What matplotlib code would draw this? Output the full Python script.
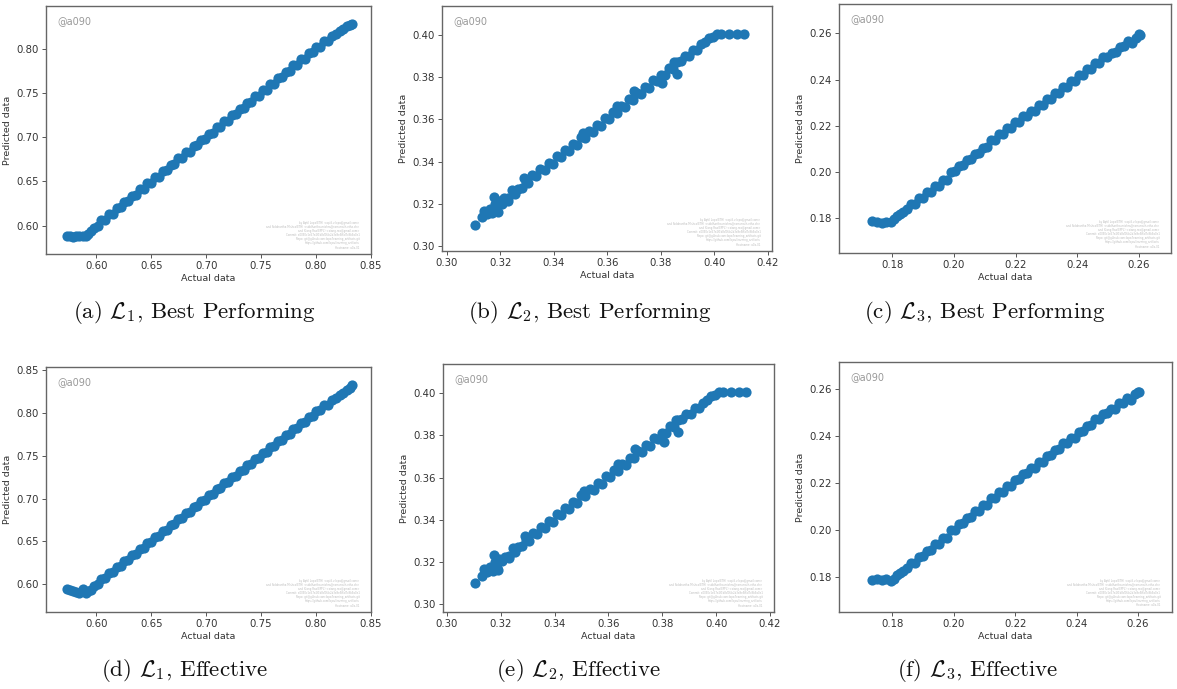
import matplotlib
matplotlib.use('Agg')
import matplotlib.pyplot as plt

plt.rcParams['mathtext.fontset'] = 'cm'

# ---- data ----
# L1 (actual data is the same test set for both rows)
actual_l1 = [0.5730, 0.5755, 0.5785, 0.5815, 0.5845, 0.5875, 0.5900, 0.5925, 0.5950, 0.5980,
             0.6010, 0.6045, 0.6080, 0.6115, 0.6150, 0.6185, 0.6220, 0.6255, 0.6290, 0.6325,
             0.6360, 0.6395, 0.6430, 0.6465, 0.6500, 0.6535, 0.6570, 0.6605, 0.6640, 0.6675,
             0.6710, 0.6745, 0.6780, 0.6815, 0.6850, 0.6885, 0.6920, 0.6955, 0.6990, 0.7025,
             0.7060, 0.7095, 0.7130, 0.7165, 0.7200, 0.7235, 0.7270, 0.7305, 0.7340, 0.7375,
             0.7410, 0.7445, 0.7480, 0.7515, 0.7550, 0.7585, 0.7620, 0.7655, 0.7690, 0.7725,
             0.7760, 0.7795, 0.7830, 0.7865, 0.7900, 0.7935, 0.7970, 0.8005, 0.8040, 0.8075,
             0.8110, 0.8145, 0.8180, 0.8215, 0.8250, 0.8285, 0.8310, 0.8330]
pred_l1_best = [0.5880, 0.5885, 0.5875, 0.5882, 0.5878, 0.5880, 0.5885, 0.5910, 0.5935, 0.5970,
                0.6000, 0.6060, 0.6065, 0.6130, 0.6135, 0.6200, 0.6205, 0.6270, 0.6275, 0.6340,
                0.6345, 0.6410, 0.6415, 0.6480, 0.6485, 0.6550, 0.6555, 0.6620, 0.6625, 0.6690,
                0.6695, 0.6760, 0.6765, 0.6830, 0.6835, 0.6900, 0.6905, 0.6970, 0.6975, 0.7040,
                0.7045, 0.7110, 0.7115, 0.7180, 0.7185, 0.7250, 0.7255, 0.7320, 0.7325, 0.7390,
                0.7395, 0.7460, 0.7465, 0.7530, 0.7535, 0.7600, 0.7605, 0.7670, 0.7675, 0.7740,
                0.7745, 0.7810, 0.7815, 0.7880, 0.7885, 0.7950, 0.7955, 0.8020, 0.8020, 0.8080,
                0.8085, 0.8140, 0.8160, 0.8195, 0.8215, 0.8250, 0.8265, 0.8280]
pred_l1_eff = [0.5940, 0.5935, 0.5920, 0.5905, 0.5895, 0.5950, 0.5895, 0.5920, 0.5935, 0.5975,
               0.6005, 0.6065, 0.6070, 0.6135, 0.6140, 0.6205, 0.6210, 0.6275, 0.6280, 0.6345,
               0.6350, 0.6415, 0.6420, 0.6485, 0.6490, 0.6555, 0.6560, 0.6625, 0.6630, 0.6695,
               0.6700, 0.6765, 0.6770, 0.6835, 0.6840, 0.6905, 0.6910, 0.6975, 0.6980, 0.7045,
               0.7050, 0.7115, 0.7120, 0.7185, 0.7190, 0.7255, 0.7260, 0.7325, 0.7330, 0.7395,
               0.7400, 0.7465, 0.7470, 0.7535, 0.7540, 0.7605, 0.7610, 0.7675, 0.7680, 0.7745,
               0.7750, 0.7815, 0.7820, 0.7885, 0.7890, 0.7955, 0.7960, 0.8025, 0.8030, 0.8090,
               0.8095, 0.8155, 0.8175, 0.8210, 0.8235, 0.8265, 0.8290, 0.8320]

# L2
actual_l2 = [0.3105, 0.3130, 0.3140, 0.3150, 0.3160, 0.3170, 0.3180, 0.3185, 0.3195, 0.3205,
             0.3215, 0.3230, 0.3245, 0.3255, 0.3265, 0.3280, 0.3295, 0.3305, 0.3320, 0.3335,
             0.3350, 0.3365, 0.3380, 0.3395, 0.3410, 0.3425, 0.3440, 0.3455, 0.3470, 0.3485,
             0.3500, 0.3515, 0.3530, 0.3545, 0.3560, 0.3575, 0.3590, 0.3605, 0.3620, 0.3635,
             0.3650, 0.3665, 0.3680, 0.3695, 0.3710, 0.3725, 0.3740, 0.3755, 0.3770, 0.3785,
             0.3800, 0.3815, 0.3830, 0.3845, 0.3860, 0.3875, 0.3890, 0.3905, 0.3920, 0.3935,
             0.3950, 0.3965, 0.3980, 0.3995, 0.4010, 0.4025, 0.4055, 0.4085, 0.4110,
             0.3175, 0.3190, 0.3230, 0.3290, 0.3635, 0.3805, 0.3850, 0.3860, 0.3700, 0.3510]
pred_l2_best = [0.3100, 0.3135, 0.3165, 0.3150, 0.3175, 0.3155, 0.3200, 0.3170, 0.3215, 0.3200,
                0.3225, 0.3225, 0.3265, 0.3245, 0.3270, 0.3275, 0.3305, 0.3300, 0.3335, 0.3330,
                0.3365, 0.3360, 0.3395, 0.3390, 0.3425, 0.3420, 0.3455, 0.3450, 0.3485, 0.3480,
                0.3515, 0.3510, 0.3545, 0.3540, 0.3575, 0.3570, 0.3605, 0.3600, 0.3635, 0.3630,
                0.3665, 0.3660, 0.3695, 0.3690, 0.3725, 0.3720, 0.3755, 0.3750, 0.3785, 0.3780,
                0.3810, 0.3810, 0.3845, 0.3840, 0.3870, 0.3875, 0.3900, 0.3900, 0.3930, 0.3930,
                0.3955, 0.3965, 0.3985, 0.3990, 0.4003, 0.4005, 0.4005, 0.4005, 0.4005,
                0.3230, 0.3160, 0.3215, 0.3320, 0.3665, 0.3770, 0.3870, 0.3815, 0.3735, 0.3535]
pred_l2_eff = [0.3100, 0.3135, 0.3165, 0.3152, 0.3176, 0.3157, 0.3200, 0.3172, 0.3215, 0.3202,
               0.3225, 0.3226, 0.3266, 0.3246, 0.3271, 0.3276, 0.3306, 0.3301, 0.3335, 0.3331,
               0.3366, 0.3361, 0.3395, 0.3391, 0.3426, 0.3421, 0.3455, 0.3451, 0.3486, 0.3481,
               0.3515, 0.3511, 0.3546, 0.3541, 0.3575, 0.3571, 0.3606, 0.3601, 0.3635, 0.3631,
               0.3666, 0.3661, 0.3695, 0.3691, 0.3726, 0.3721, 0.3755, 0.3751, 0.3786, 0.3781,
               0.3811, 0.3811, 0.3846, 0.3841, 0.3871, 0.3876, 0.3901, 0.3901, 0.3931, 0.3931,
               0.3956, 0.3966, 0.3986, 0.3991, 0.4004, 0.4005, 0.4005, 0.4005, 0.4005,
               0.3232, 0.3162, 0.3216, 0.3321, 0.3666, 0.3771, 0.3871, 0.3816, 0.3736, 0.3536]

# L3
actual_l3 = [0.1735, 0.1750, 0.1765, 0.1780, 0.1795, 0.1805, 0.1815, 0.1825, 0.1835, 0.1848,
             0.1861, 0.1874, 0.1887, 0.1900, 0.1913, 0.1926, 0.1939, 0.1952, 0.1965, 0.1978,
             0.1991, 0.2004, 0.2017, 0.2030, 0.2043, 0.2056, 0.2069, 0.2082, 0.2095, 0.2108,
             0.2121, 0.2134, 0.2147, 0.2160, 0.2173, 0.2186, 0.2199, 0.2212, 0.2225, 0.2238,
             0.2251, 0.2264, 0.2277, 0.2290, 0.2303, 0.2316, 0.2329, 0.2342, 0.2355, 0.2368,
             0.2381, 0.2394, 0.2407, 0.2420, 0.2433, 0.2446, 0.2459, 0.2472, 0.2485, 0.2498,
             0.2511, 0.2524, 0.2537, 0.2550, 0.2563, 0.2576, 0.2589, 0.2600, 0.2605]
pred_l3_best = [0.1788, 0.1786, 0.1780, 0.1786, 0.1784, 0.1795, 0.1810, 0.1818, 0.1826, 0.1840,
                0.1862, 0.1863, 0.1888, 0.1889, 0.1914, 0.1915, 0.1940, 0.1941, 0.1966, 0.1967,
                0.2002, 0.2003, 0.2028, 0.2029, 0.2054, 0.2055, 0.2080, 0.2081, 0.2106, 0.2107,
                0.2137, 0.2138, 0.2163, 0.2164, 0.2189, 0.2190, 0.2215, 0.2216, 0.2241, 0.2242,
                0.2265, 0.2266, 0.2291, 0.2292, 0.2317, 0.2318, 0.2343, 0.2344, 0.2369, 0.2370,
                0.2393, 0.2394, 0.2419, 0.2420, 0.2445, 0.2446, 0.2471, 0.2472, 0.2497, 0.2498,
                0.2517, 0.2518, 0.2543, 0.2544, 0.2566, 0.2560, 0.2582, 0.2598, 0.2593]
pred_l3_eff = [0.1785, 0.1792, 0.1786, 0.1792, 0.1782, 0.1790, 0.1808, 0.1815, 0.1824, 0.1838,
               0.1860, 0.1861, 0.1886, 0.1887, 0.1912, 0.1913, 0.1938, 0.1939, 0.1964, 0.1965,
               0.2000, 0.2001, 0.2026, 0.2027, 0.2052, 0.2053, 0.2078, 0.2079, 0.2104, 0.2105,
               0.2135, 0.2136, 0.2161, 0.2162, 0.2187, 0.2188, 0.2213, 0.2214, 0.2239, 0.2240,
               0.2263, 0.2264, 0.2289, 0.2290, 0.2315, 0.2316, 0.2341, 0.2342, 0.2367, 0.2368,
               0.2391, 0.2392, 0.2417, 0.2418, 0.2443, 0.2444, 0.2469, 0.2470, 0.2494, 0.2495,
               0.2514, 0.2515, 0.2539, 0.2540, 0.2560, 0.2553, 0.2576, 0.2586, 0.2585]

captions = [r'(a) $\mathcal{L}_1$, Best Performing', r'(b) $\mathcal{L}_2$, Best Performing',
            r'(c) $\mathcal{L}_3$, Best Performing', r'(d) $\mathcal{L}_1$, Effective',
            r'(e) $\mathcal{L}_2$, Effective', r'(f) $\mathcal{L}_3$, Effective']

credits = ['by Aptil Lopa(ETH) <aptil.v.lopa@gmail.com>',
           'and Siddhartha Mishra(ETH) <siddhartha.mishra@sam.math.ethz.ch>',
           'and Xiang Rao(EPFL) <xiang.rao@gmail.com>',
           'Commit: a0090c1e57e2f1b8d0f4c2b3a9e5f6d7c8b9a0e1',
           'Repo: git@github.com:lopa/learning_artifacts.git',
           'https://github.com/lopa/learning_artifacts',
           'Hostname: a0a-01']

panels = [
    (actual_l1, pred_l1_best, (46, 6, 371, 254), (0.554, 0.8502), (0.568, 0.848), (194, 313)),
    (actual_l2, pred_l2_best, (442, 6, 772, 251), (0.2982, 0.4215), (0.2976, 0.4137), (590, 313)),
    (actual_l3, pred_l3_best, (839, 4, 1171, 253), (0.1627, 0.2704), (0.165, 0.2727), (985, 313)),
    (actual_l1, pred_l1_eff, (46, 367, 371, 612), (0.554, 0.8502), (0.5677, 0.8535), (185, 670)),
    (actual_l2, pred_l2_eff, (443, 364, 774, 612), (0.2986, 0.4215), (0.2962, 0.4139), (578, 670)),
    (actual_l3, pred_l3_eff, (839, 362, 1172, 612), (0.1626, 0.2711), (0.1651, 0.2713), (978, 670)),
]

W, H = 1177, 689
fig = plt.figure(figsize=(W / 100, H / 100), dpi=100)

for i, (xs, ys, box, xl, yl, cap) in enumerate(panels):
    l, t, r, b = box
    ax = fig.add_axes([l / W, 1 - b / H, (r - l) / W, (b - t) / H])
    ax.scatter(xs, ys, s=54, color='#1f77b4', linewidths=0)
    ax.set_xlim(xl)
    ax.set_ylim(yl)
    ax.set_xlabel('Actual data', fontsize=6.8, color='#333333', labelpad=2)
    ax.set_ylabel('Predicted data', fontsize=6.8, color='#333333', labelpad=3)
    ax.tick_params(labelsize=7.3, length=3, width=0.7, color='#555555',
                   labelcolor='#333333', pad=2)
    for sp in ax.spines.values():
        sp.set_color('#666666')
        sp.set_linewidth(1.0)
    ax.text(0.035, 0.96, '@a090', transform=ax.transAxes, fontsize=7,
            color='#999999', ha='left', va='top')
    ax.text(0.965, 0.018, '\n'.join(credits), transform=ax.transAxes, fontsize=1.9,
            color='#bbbbbb', ha='right', va='bottom', linespacing=1.05)
    fig.text(cap[0] / W, 1 - cap[1] / H, captions[i], fontsize=16.5, family='cmr10',
             ha='center', va='center', color='#111111')

fig.savefig('out.png', dpi=100)
